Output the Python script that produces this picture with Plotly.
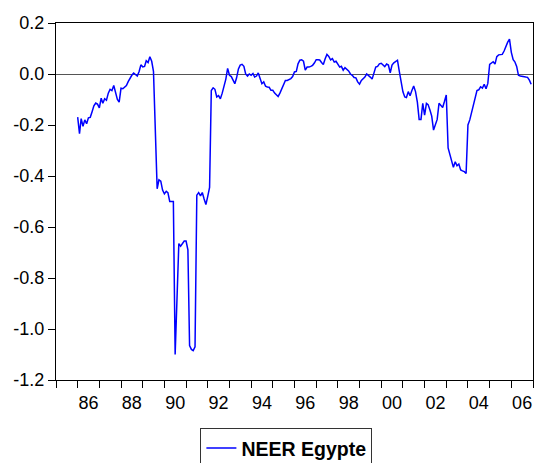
import pandas as pd
import plotly.graph_objects as go

# Monthly nominal effective exchange rate (log deviation), Egypt, 1986M01-2006M12
start_month = "1986-01-01"
neer_egypte = [
    # 1986
    -0.169, -0.234, -0.175, -0.205, -0.18, -0.195, -0.172, -0.17, -0.148, -0.125, -0.114, -0.118,
    # 1987
    -0.133, -0.095, -0.115, -0.097, -0.103, -0.075, -0.06, -0.065, -0.045, -0.075, -0.1, -0.11,
    # 1988
    -0.056, -0.058, -0.05, -0.045, -0.03, -0.015, -0.005, 0.004, -0.002, -0.008, 0.01, 0.036,
    # 1989
    0.028, 0.03, 0.052, 0.045, 0.068, 0.05, 0.01, -0.22, -0.45, -0.415, -0.42, -0.455,
    # 1990
    -0.47, -0.46, -0.465, -0.5, -0.5, -0.5, -1.1, -0.88, -0.665, -0.675, -0.665, -0.655,
    # 1991
    -0.655, -0.69, -1.065, -1.08, -1.085, -1.07, -0.475, -0.465, -0.478, -0.465, -0.49, -0.512,
    # 1992
    -0.48, -0.445, -0.065, -0.054, -0.06, -0.09, -0.085, -0.097, -0.075, -0.05, -0.02, 0.022,
    # 1993
    -0.005, -0.01, -0.022, -0.038, -0.015, 0.02, 0.035, 0.038, 0.03, 0.0, -0.008, 0.0,
    # 1994
    -0.005, 0.002, -0.012, -0.008, 0.004, -0.018, -0.038, -0.031, -0.048, -0.051, -0.052, -0.064,
    # 1995
    -0.064, -0.075, -0.08, -0.088, -0.075, -0.06, -0.04, -0.025, -0.025, -0.022, -0.018, -0.01,
    # 1996
    0.008, 0.01, 0.04, 0.054, 0.056, 0.05, 0.015, 0.027, 0.027, 0.03, 0.034, 0.043,
    # 1997
    0.056, 0.056, 0.055, 0.045, 0.037, 0.06, 0.077, 0.069, 0.055, 0.06, 0.047, 0.05,
    # 1998
    0.04, 0.027, 0.03, 0.015, 0.025, 0.02, 0.012, 0.0, -0.005, -0.014, -0.015, -0.031,
    # 1999
    -0.04, -0.025, -0.018, -0.012, 0.0, -0.005, -0.012, -0.02, 0.008, 0.027, 0.03, 0.04,
    # 2000
    0.042, 0.036, 0.029, 0.039, 0.035, 0.005, 0.035, 0.044, 0.048, 0.054, 0.01, -0.025,
    # 2001
    -0.07, -0.09, -0.092, -0.069, -0.085, -0.065, -0.047, -0.069, -0.11, -0.178, -0.178, -0.115,
    # 2002
    -0.161, -0.115, -0.12, -0.141, -0.165, -0.22, -0.2, -0.178, -0.115, -0.122, -0.131, -0.108,
    # 2003
    -0.082, -0.29, -0.315, -0.345, -0.366, -0.344, -0.36, -0.353, -0.376, -0.38, -0.383, -0.39,
    # 2004
    -0.2, -0.18, -0.15, -0.12, -0.085, -0.065, -0.062, -0.05, -0.055, -0.04, -0.058, -0.037,
    # 2005
    0.038, 0.042, 0.048, 0.039, 0.068, 0.075, 0.075, 0.077, 0.09, 0.11, 0.125, 0.137,
    # 2006
    0.085, 0.056, 0.048, 0.03, -0.005, -0.008, -0.01, -0.01, -0.012, -0.013, -0.024, -0.04,
]
series_name = "NEER Egypte"

# x-axis: one tick per year, a two-digit label every other year (centred in the year)
label_years = list(range(1986, 2007, 2))
x_labels = ["86", "88", "90", "92", "94", "96", "98", "00", "02", "04", "06"]

# y-axis ticks
y_ticks = [0.2, 0.0, -0.2, -0.4, -0.6, -0.8, -1.0, -1.2]
y_labels = ["0.2", "0.0", "-0.2", "-0.4", "-0.6", "-0.8", "-1.0", "-1.2"]

months = pd.date_range(start_month, periods=len(neer_egypte), freq="MS")

FONT = "Liberation Sans, Arial, Helvetica, sans-serif"

fig = go.Figure()
fig.add_trace(go.Scatter(
    x=months, y=neer_egypte, mode="lines", name=series_name,
    line=dict(color="#0000FF", width=1.5),
))

fig.update_layout(
    width=535, height=463,
    margin=dict(l=56, r=2, t=23, b=83, autoexpand=False),
    paper_bgcolor="white", plot_bgcolor="white",
    font=dict(family=FONT, size=18, color="black"),
    showlegend=True,
    legend=dict(
        x=0.483, xanchor="center", y=-0.134, yanchor="top",
        orientation="h",
        bordercolor="#333333", borderwidth=1,
        font=dict(family=FONT, size=19.5, color="black", weight="bold"),
        itemwidth=30,
    ),
)

fig.update_xaxes(
    type="date",
    range=["1985-01-01", "2007-01-01"],
    tickmode="array",
    tickvals=[f"{y}-07-02" for y in label_years],
    ticktext=x_labels,
    # invisible major ticks only push the labels below the yearly tick marks
    ticks="outside",
    ticklen=6,
    tickcolor="rgba(0,0,0,0)",
    tickfont=dict(family=FONT, size=18, color="black"),
    showgrid=False,
    showline=True, linecolor="black", linewidth=1.3, mirror=True,
    zeroline=False,
    minor=dict(
        tickmode="linear", tick0="1985-01-01", dtick="M12",
        ticks="outside", ticklen=7, tickwidth=1, tickcolor="black",
        showgrid=False,
    ),
)

fig.update_yaxes(
    range=[-1.2, 0.2],
    tickmode="array",
    tickvals=y_ticks,
    ticktext=y_labels,
    ticks="outside", ticklen=7, tickwidth=1, tickcolor="black",
    tickfont=dict(family=FONT, size=18, color="black"),
    showgrid=False,
    showline=True, linecolor="black", linewidth=1.3, mirror=True,
    zeroline=True, zerolinecolor="#555555", zerolinewidth=1.2,
)

fig.write_html("out.html")
